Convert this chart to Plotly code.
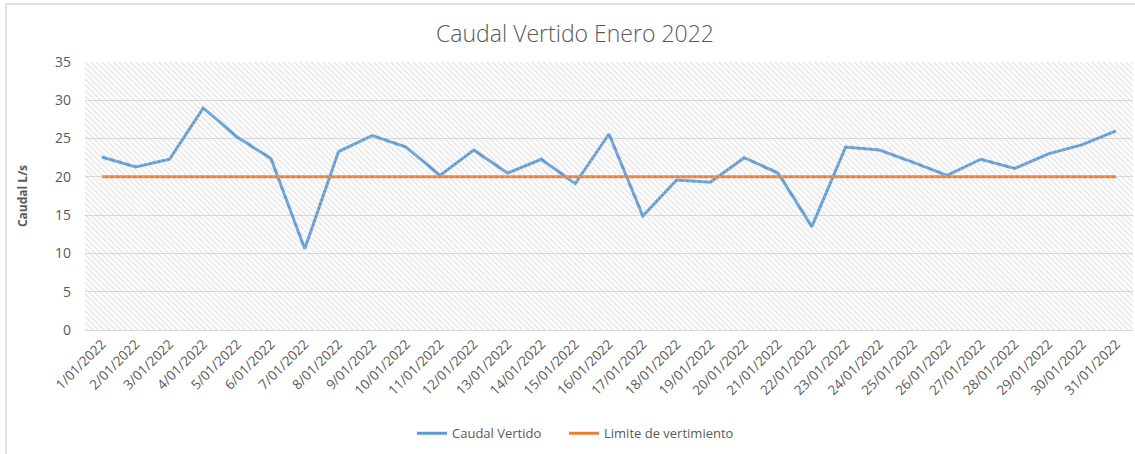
import plotly.graph_objects as go

dates = [f"{d}/01/2022" for d in range(1, 32)]
caudal = [22.6, 21.3, 22.3, 29.0, 25.2, 22.4, 10.6, 23.3, 25.4, 23.9,
          20.2, 23.5, 20.5, 22.3, 19.1, 25.6, 14.9, 19.6, 19.3, 22.5,
          20.5, 13.5, 23.9, 23.5, 21.9, 20.2, 22.3, 21.1, 23.0, 24.2, 26.0]
limite = [20] * 31

BLUE = "#5B9BD5"
ORANGE = "#ED7D31"
GRID = "#D9D9D9"
TXT = "#595959"
FONT = "Open Sans"

fig = go.Figure()

# hatched plot-area background on an overlay unit axis
fig.add_trace(go.Scatter(
    x=[0, 1, 1, 0, 0], y=[0, 0, 1, 1, 0], xaxis="x2", yaxis="y2",
    mode="lines", line=dict(width=0), fill="toself",
    fillcolor="rgba(0,0,0,0)",
    fillpattern=dict(shape="\\", fgcolor="#C9C9C9", bgcolor="rgba(0,0,0,0)",
                     size=4, solidity=0.35),
    hoverinfo="skip", showlegend=False))

fig.add_trace(go.Scatter(x=dates, y=caudal, name="Caudal Vertido", mode="lines",
                         line=dict(color=BLUE, width=3), legend="legend"))
fig.add_trace(go.Scatter(x=dates, y=limite, name="Limite de vertimiento", mode="lines",
                         line=dict(color=ORANGE, width=3), legend="legend2"))

leg_common = dict(orientation="h", xanchor="left", y=-0.385, yanchor="middle",
                  font=dict(size=13, color=TXT), itemwidth=30)

fig.update_layout(
    width=1135, height=454,
    margin=dict(l=85, r=2, t=62, b=124, autoexpand=False),
    paper_bgcolor="white", plot_bgcolor="white",
    font=dict(family=FONT, color=TXT, size=13),
    title=dict(text="Caudal Vertido Enero 2022", x=0.5066, xanchor="center",
               y=0.925, yanchor="middle",
               font=dict(family=FONT, size=23, color=TXT, weight=300)),
    xaxis=dict(type="category", tickangle=-45, showgrid=False,
               showline=True, linecolor=GRID, linewidth=1, ticks="",
               tickfont=dict(size=13.5, color=TXT), range=[-0.5, 30.5],
               automargin=False),
    yaxis=dict(range=[0, 35], dtick=5, showgrid=True, gridcolor=GRID,
               gridwidth=1, zeroline=False, showline=False, ticks="",
               tickfont=dict(size=14, color=TXT), automargin=False,
               ticklabelstandoff=13,
               title=dict(text="<b>Caudal L/s</b>", font=dict(size=12, color=TXT),
                          standoff=24)),
    xaxis2=dict(overlaying="x", range=[0, 1], visible=False),
    yaxis2=dict(overlaying="y", range=[0, 1], visible=False),
    legend=dict(x=(412 - 85) / 1048, **leg_common),
    legend2=dict(x=(564 - 85) / 1048, **leg_common),
    showlegend=True,
)

# outer chart border (left and top edges visible in reference)
fig.add_shape(type="line", xref="paper", yref="paper",
              x0=(6 - 85) / 1048, x1=1.01, y0=(330 - 4) / 268, y1=(330 - 4) / 268,
              line=dict(color="#D9D9D9", width=1.5))
fig.add_shape(type="line", xref="paper", yref="paper",
              x0=(6 - 85) / 1048, x1=(6 - 85) / 1048, y0=(330 - 4) / 268, y1=-0.5,
              line=dict(color="#D9D9D9", width=1.5))

fig.write_html("out.html", config={"displayModeBar": False},
               post_script="document.body.style.margin='0';document.body.style.overflow='hidden';")
